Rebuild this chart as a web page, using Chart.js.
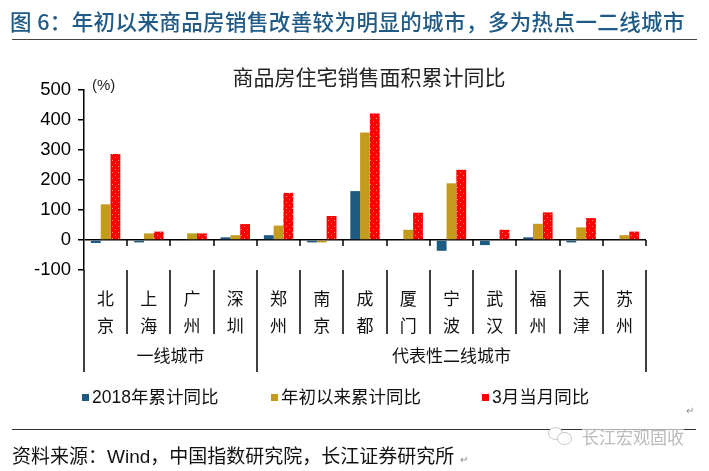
<!DOCTYPE html>
<html>
<head>
<meta charset="utf-8">
<script src="https://cdn.jsdelivr.net/npm/chart.js@4.4.1/dist/chart.umd.min.js"></script>
<style>
body { margin: 0; background: #fff; font-family: "Liberation Sans", "Noto Sans CJK SC", sans-serif; }
#wrap { position: relative; width: 709px; height: 471px; overflow: hidden; }
#chart { position: absolute; left: 0; top: 0; }
.abs { position: absolute; white-space: nowrap; }
#pageTitle { left: 10px; top: 5px; font-size: 21.5px; color: #1f5b86; font-family: "Noto Sans CJK SC", sans-serif; font-weight: 500; letter-spacing: 0.4px; }
#rule1 { left: 12px; top: 39px; width: 685px; height: 0; border-top: 1.5px solid #444; }
#chartTitle { left: 0; width: 738px; text-align: center; top: 61px; font-size: 21px; color: #222; font-family: "Noto Sans CJK SC", sans-serif; }
#unit { left: 92px; top: 76px; font-size: 15px; color: #222; }
#legend { left: 0; top: 386px; font-size: 17.5px; color: #111; font-family: "Liberation Sans", "Noto Sans CJK SC", sans-serif; }
.item { position: absolute; top: 0; white-space: nowrap; line-height: 22px; }
.box { display: inline-block; width: 7px; height: 7px; margin-right: 3px; vertical-align: 2px; }
#rule2 { left: 12px; top: 429px; width: 684px; height: 0; border-top: 1px solid #333; }
#source { left: 12px; top: 441px; font-size: 19px; color: #111; }
#mark { left: 582px; top: 424px; font-size: 17px; color: #bbb; font-family: "Noto Sans CJK SC", sans-serif; background: rgba(255,255,255,0.6); }
.ic { position: absolute; border: 1.5px solid #c8c8c8; border-radius: 50%; background: #fff; }
.ret { font-size: 10px; color: #888; }
</style>
</head>
<body>
<div id="wrap">
  <canvas id="chart" width="709" height="471"></canvas>
  <div class="abs" id="pageTitle">图 6：年初以来商品房销售改善较为明显的城市，多为热点一二线城市</div>
  <div class="abs" id="rule1"></div>
  <div class="abs" id="chartTitle">商品房住宅销售面积累计同比</div>
  <div class="abs" id="unit">(%)</div>
  <div class="abs" id="legend"></div>
  <div class="abs ret" style="left:686px;top:405px;">↵</div>
  <div class="abs" id="rule2"></div>
  <div class="ic" style="left:548px;top:427px;width:13px;height:11px;"></div>
  <div class="ic" style="left:557px;top:432px;width:13px;height:11px;"></div>
  <div class="abs" id="mark">长江宏观固收</div>
  <div class="abs" id="source">资料来源：Wind，中国指数研究院，长江证券研究所 <span class="ret">↵</span></div>
</div>
<script>
// 数据
const cities = [['北', '京'], ['上', '海'], ['广', '州'], ['深', '圳'], ['郑', '州'], ['南', '京'], ['成', '都'],
    ['厦', '门'], ['宁', '波'], ['武', '汉'], ['福', '州'], ['天', '津'], ['苏', '州']];
const groupNames = ['一线城市', '代表性二线城市'];
const groupSizes = [4, 9];
const seriesNames = ['2018年累计同比', '年初以来累计同比', '3月当月同比'];
const val2018 = [-10, -8, -2, 9, 16, -8, 163, 0, -36, -17, 9, -8, 0];
const valYtd = [119, 22, 22, 16, 48, -8, 358, 34, 189, 0, 54, 42, 16];
const valMar = [287, 28, 22, 53, 157, 80, 422, 91, 234, 34, 92, 73, 28];
const yMin = -100, yMax = 500, yStep = 100;

const colors = ['#1d5b82', '#c49b1c', '#ff0000'];

// 红色柱子的点状填充
function dotPattern() {
    const c = document.createElement('canvas');
    c.width = 6; c.height = 6;
    const g = c.getContext('2d');
    g.fillStyle = '#ff0000';
    g.fillRect(0, 0, 6, 6);
    g.fillStyle = '#ff8c8c';
    g.fillRect(1, 1, 1, 1);
    g.fillRect(4, 4, 1, 1);
    return g.createPattern(c, 'repeat');
}

// 图例
const legendPos = [82, 271, 482];
const legendEl = document.getElementById('legend');
seriesNames.forEach((name, i) => {
    const d = document.createElement('div');
    d.className = 'item';
    d.style.left = legendPos[i] + 'px';
    d.innerHTML = '<span class="box" style="background:' + colors[i] + '"></span>' + name;
    legendEl.appendChild(d);
});

// 分隔线、零轴刻度和分组标签
const dividers = {
    id: 'dividers',
    afterDraw(chart) {
        const ctx = chart.ctx;
        const x = chart.scales.x, y = chart.scales.y;
        const y0 = Math.round(y.getPixelForValue(0));
        const yb = y.bottom;
        const edges = [0];
        let n = 0;
        groupSizes.forEach(s => { n += s; edges.push(n); });
        ctx.save();
        ctx.strokeStyle = '#000';
        ctx.lineWidth = 1.5;
        for (let i = 0; i <= cities.length; i++) {
            const px = Math.round(x.getPixelForValue(i - 0.5));
            const isEdge = edges.includes(i);
            ctx.beginPath();
            if (i > 0) {
                ctx.moveTo(px, y0);
                ctx.lineTo(px, y0 + 6);
            }
            ctx.moveTo(px, yb);
            ctx.lineTo(px, yb + (isEdge ? 102 : 64));
            ctx.stroke();
        }
        ctx.fillStyle = '#111';
        ctx.font = '17px "Noto Sans CJK SC", sans-serif';
        ctx.textAlign = 'center';
        ctx.textBaseline = 'middle';
        groupNames.forEach((g, k) => {
            const a = x.getPixelForValue(edges[k] - 0.5);
            const b = x.getPixelForValue(edges[k + 1] - 0.5);
            ctx.fillText(g, (a + b) / 2, yb + 86);
        });
        ctx.restore();
    }
};

const ctx = document.getElementById('chart').getContext('2d');
const chart = new Chart(ctx, {
    type: 'bar',
    data: {
        labels: cities,
        datasets: [
            { label: seriesNames[0], data: val2018, backgroundColor: colors[0] },
            { label: seriesNames[1], data: valYtd, backgroundColor: colors[1] },
            { label: seriesNames[2], data: valMar, backgroundColor: dotPattern() }
        ]
    },
    options: {
        responsive: false,
        animation: false,
        categoryPercentage: 0.68,
        barPercentage: 1.0,
        layout: { padding: { top: 90, right: 63, left: 0, bottom: 0 } },
        plugins: {
            legend: { display: false },
            tooltip: { enabled: false }
        },
        scales: {
            x: {
                grid: { display: false },
                border: { display: false },
                ticks: {
                    color: '#111',
                    font: { size: 17, family: '"Noto Sans CJK SC", sans-serif', lineHeight: 1.6 },
                    padding: 7,
                    maxRotation: 0,
                    autoSkip: false
                },
                afterFit(s) { s.height = 201; }
            },
            y: {
                min: yMin,
                max: yMax,
                ticks: {
                    stepSize: yStep,
                    color: '#000',
                    font: { size: 18.5, family: '"Liberation Sans", sans-serif' },
                    padding: 7
                },
                grid: {
                    color: c => (c.tick && c.tick.value === 0 ? '#000' : 'rgba(0,0,0,0)'),
                    tickColor: '#000',
                    tickLength: 6,
                    lineWidth: 1.5
                },
                border: { color: '#000', width: 1.5 },
                afterFit(s) { s.width = 84; }
            }
        }
    },
    plugins: [dividers]
});
</script>
</body>
</html>
